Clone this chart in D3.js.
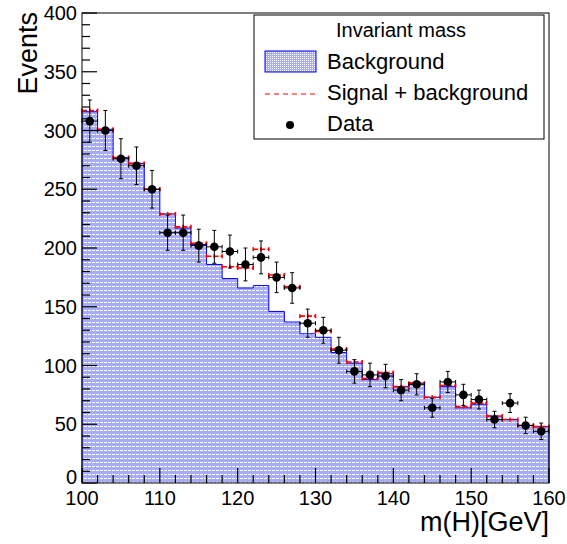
<!DOCTYPE html>
<html>
<head>
<meta charset="utf-8">
<script src="https://cdn.jsdelivr.net/npm/d3@7"></script>
<style>
  body { margin: 0; background: #fff; }
  text { font-family: "Liberation Sans", Arial, sans-serif; fill: #000; }
</style>
</head>
<body>
<div id="chart"></div>
<script>
// Invariant mass histogram (ROOT style)

// Bin low edges in GeV (2 GeV bins)
const binLow = [100,102,104,106,108,110,112,114,116,118,120,122,124,126,128,
                130,132,134,136,138,140,142,144,146,148,150,152,154,156,158];
const binWidth = 2;
// Counts per bin
const background   = [316,301,277,272,250,229,217,203,186,174,166,168,146,137,127,
                      124,111,102,88,93,82,85,73,82,64,67,57,54,49,48];
const signalPlusBg = [317,301,277,272,250,229,218,204,193,184,183,199,177,167,142,
                      129,114,103,89,94,82,85,73,83,65,68,57,54,49,48];
const dataCounts   = [308,300,276,270,250,213,213,202,201,197,186,192,175,166,136,
                      130,113,95,92,91,79,84,64,86,75,71,54,68,49,44];
const dataErr      = [18,17,17,16,16,15,15,14,14,14,14,14,13,13,12,
                      11,11,10,10,10,9,9,8,9,9,8,7,8,7,7];
const xTicks = [100,110,120,130,140,150,160];
const yTicks = [0,50,100,150,200,250,300,350,400];
const legendItems = ['Background', 'Signal + background', 'Data'];

const width = 567, height = 544;
const mLeft = 82, mRight = 549, mTop = 13, mBottom = 483;

const svg = d3.select('#chart').append('svg')
    .attr('width', width).attr('height', height);

const x = d3.scaleLinear().domain([100, 160]).range([mLeft, mRight]);
const y = d3.scaleLinear().domain([0, 400]).range([mBottom, mTop]);

// fill pattern for the background histogram
const defs = svg.append('defs');
const pat = defs.append('pattern').attr('id', 'bgfill')
    .attr('patternUnits', 'userSpaceOnUse').attr('width', 4).attr('height', 4);
pat.append('rect').attr('width', 4).attr('height', 4).attr('fill', '#a6acf6');
pat.append('rect').attr('x', 0).attr('y', 2).attr('width', 3).attr('height', 1).attr('fill', '#fff');

const pat2 = defs.append('pattern').attr('id', 'bgfill2')
    .attr('patternUnits', 'userSpaceOnUse').attr('width', 2).attr('height', 2);
pat2.append('rect').attr('width', 2).attr('height', 2).attr('fill', '#a6acf6');
pat2.append('rect').attr('width', 1).attr('height', 1).attr('fill', '#fff');

// background histogram as a step area
const steps = [];
binLow.forEach((lo, i) => {
    steps.push([lo, background[i]]);
    steps.push([lo + binWidth, background[i]]);
});
const area = d3.area().x(d => x(d[0])).y0(y(0)).y1(d => y(d[1]));
svg.append('path').datum(steps).attr('d', area).attr('fill', 'url(#bgfill)');
const line = d3.line().x(d => x(d[0])).y(d => y(d[1]));
svg.append('path')
    .datum([[100, 0], ...steps, [160, 0]])
    .attr('d', line).attr('fill', 'none').attr('stroke', '#0000ff').attr('stroke-width', 1);

// signal + background: dashed red bars per bin
const sig = svg.append('g').attr('stroke', '#ff0000').attr('stroke-width', 1.6);
binLow.forEach((lo, i) => {
    const yy = y(signalPlusBg[i]);
    sig.append('line').attr('x1', x(lo)).attr('x2', x(lo + binWidth))
        .attr('y1', yy).attr('y2', yy).attr('stroke-dasharray', '5,2');
    [lo, lo + binWidth / 2, lo + binWidth].forEach(v => {
        sig.append('line').attr('x1', x(v)).attr('x2', x(v))
            .attr('y1', yy - 2).attr('y2', yy + 2);
    });
});

// data points with error bars
const pts = svg.append('g').attr('stroke', '#000').attr('stroke-width', 1);
binLow.forEach((lo, i) => {
    const cx = x(lo + binWidth / 2), cy = y(dataCounts[i]);
    const y1 = y(dataCounts[i] + dataErr[i]), y2 = y(dataCounts[i] - dataErr[i]);
    pts.append('line').attr('x1', cx).attr('x2', cx).attr('y1', y1).attr('y2', y2);
    pts.append('line').attr('x1', cx - 2).attr('x2', cx + 2).attr('y1', y1).attr('y2', y1);
    pts.append('line').attr('x1', cx - 2).attr('x2', cx + 2).attr('y1', y2).attr('y2', y2);
    pts.append('line').attr('x1', x(lo)).attr('x2', x(lo + binWidth)).attr('y1', cy).attr('y2', cy);
    pts.append('line').attr('x1', x(lo)).attr('x2', x(lo)).attr('y1', cy - 2).attr('y2', cy + 2);
    pts.append('line').attr('x1', x(lo + binWidth)).attr('x2', x(lo + binWidth)).attr('y1', cy - 2).attr('y2', cy + 2);
    pts.append('circle').attr('cx', cx).attr('cy', cy).attr('r', 4.3)
        .attr('fill', '#000').attr('stroke', 'none');
});

// frame
svg.append('rect').attr('x', mLeft).attr('y', mTop)
    .attr('width', mRight - mLeft).attr('height', mBottom - mTop)
    .attr('fill', 'none').attr('stroke', '#000').attr('stroke-width', 1);

// axes, ticks pointing inside
const axisG = svg.append('g').attr('stroke', '#000').attr('stroke-width', 1.2);
d3.range(0, 401, 10).forEach(v => {
    const len = v % 50 === 0 ? 15 : 8;
    axisG.append('line').attr('x1', mLeft).attr('x2', mLeft + len).attr('y1', y(v)).attr('y2', y(v));
});
d3.range(100, 161, 2).forEach(v => {
    const len = v % 10 === 0 ? 15 : 8;
    axisG.append('line').attr('x1', x(v)).attr('x2', x(v)).attr('y1', mBottom).attr('y2', mBottom - len);
});

svg.append('g').selectAll('text').data(yTicks).join('text')
    .attr('x', mLeft - 5)
    .attr('y', d => d === 0 ? y(d) - 6 : y(d))
    .attr('dy', '0.35em').attr('text-anchor', 'end').attr('font-size', 20)
    .text(d => d);
svg.append('g').selectAll('text').data(xTicks).join('text')
    .attr('x', d => x(d)).attr('y', mBottom + 22)
    .attr('text-anchor', 'middle').attr('font-size', 20)
    .text(d => d);

svg.append('text').attr('x', mRight).attr('y', 531)
    .attr('text-anchor', 'end').attr('font-size', 27).text('m(H)[GeV]');
svg.append('text').attr('transform', `translate(37,${mTop - 1}) rotate(-90)`)
    .attr('text-anchor', 'end').attr('font-size', 27).text('Events');

// legend
const lg = svg.append('g');
lg.append('rect').attr('x', 254).attr('y', 15).attr('width', 290).attr('height', 124)
    .attr('fill', '#fff').attr('stroke', '#000').attr('stroke-width', 1);
lg.append('text').attr('x', 401).attr('y', 37).attr('text-anchor', 'middle')
    .attr('font-size', 20).text('Invariant mass');
lg.append('rect').attr('x', 265).attr('y', 51).attr('width', 51).attr('height', 21)
    .attr('fill', 'url(#bgfill2)').attr('stroke', '#0000ff');
lg.append('line').attr('x1', 265).attr('x2', 316).attr('y1', 94).attr('y2', 94)
    .attr('stroke', '#ff0000').attr('stroke-width', 1.2).attr('stroke-dasharray', '5,4');
lg.append('circle').attr('cx', 290).attr('cy', 125).attr('r', 4).attr('fill', '#000');
lg.selectAll('text.item').data(legendItems).join('text')
    .classed('item', true)
    .attr('x', 327).attr('y', (d, i) => 69 + i * 31)
    .attr('font-size', 22).text(d => d);
</script>
</body>
</html>
